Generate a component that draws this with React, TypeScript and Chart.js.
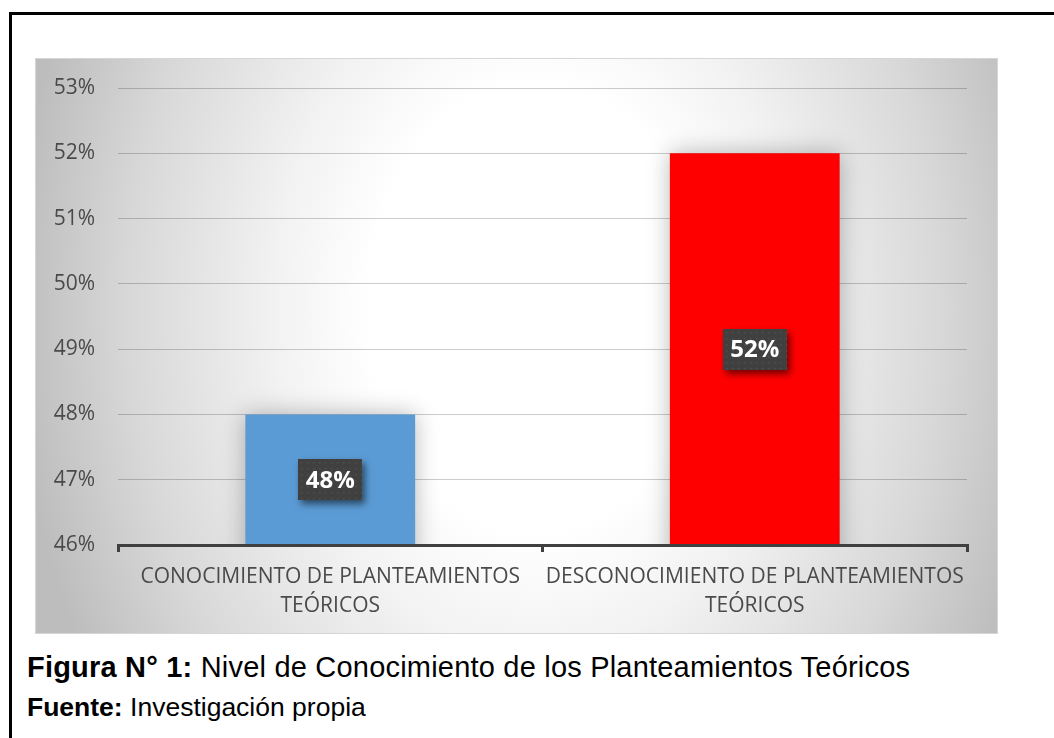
import React, { useEffect, useRef } from "react";
import { Chart, registerables } from "chart.js";

Chart.register(...registerables);

const categories: string[][] = [
  ["CONOCIMIENTO DE PLANTEAMIENTOS", "TEÓRICOS"],
  ["DESCONOCIMIENTO DE PLANTEAMIENTOS", "TEÓRICOS"],
];
const values: number[] = [48, 52];
const valueLabels: string[] = ["48%", "52%"];
const barColors: string[] = ["#5B9BD5", "#FF0000"];
const yMin = 46;
const yMax = 53;
const yStep = 1;
const captionBold = "Figura N° 1:";
const captionText = " Nivel de Conocimiento de los Planteamientos Teóricos";
const sourceBold = "Fuente:";
const sourceText = " Investigación propia";

const W = 963;
const H = 576;

function drawValueLabels(chart: any) {
  const ctx = chart.ctx;
  const xs = chart.scales.x;
  const ys = chart.scales.y;
  for (let i = 0; i < values.length; i++) {
    const x = xs.getPixelForValue(i);
    const y = ys.getPixelForValue((values[i] + yMin) / 2);
    const bw = 64;
    const bh = 41;
    const left = Math.round(x - bw / 2);
    const top = Math.round(y - bh / 2);
    ctx.save();
    ctx.shadowColor = "rgba(0,0,0,0.55)";
    ctx.shadowBlur = 7;
    ctx.shadowOffsetX = 3;
    ctx.shadowOffsetY = 4;
    ctx.fillStyle = "#404040";
    ctx.fillRect(left, top, bw, bh);
    ctx.restore();
    ctx.save();
    ctx.fillStyle = "rgba(255,255,255,0.08)";
    for (let dx = 3; dx < bw; dx += 6) {
      for (let dy = 3; dy < bh; dy += 6) {
        ctx.fillRect(left + dx, top + dy, 1.5, 1.5);
      }
    }
    ctx.fillStyle = "#ffffff";
    ctx.font = "bold 24px 'Open Sans'";
    ctx.textAlign = "center";
    ctx.textBaseline = "middle";
    ctx.fillText(valueLabels[i], x, y + 1);
    ctx.restore();
  }
}

const bgPlugin = {
  id: "bgGradient",
  beforeDraw(chart: any) {
    const ctx = chart.ctx;
    const cx = 500;
    const cy = 250;
    const rx = 520;
    const ry = 700;
    ctx.save();
    ctx.translate(cx, cy);
    ctx.scale(1, ry / rx);
    const g = ctx.createRadialGradient(0, 0, 0, 0, 0, rx);
    g.addColorStop(0, "#ffffff");
    g.addColorStop(0.32, "#ffffff");
    g.addColorStop(0.5, "#f2f2f2");
    g.addColorStop(0.78, "#d8d8d8");
    g.addColorStop(1, "#bdbdbd");
    ctx.fillStyle = g;
    ctx.fillRect(-cx, (-cy * rx) / ry, W, (H * rx) / ry);
    ctx.restore();
    ctx.save();
    ctx.strokeStyle = "#d6d6d6";
    ctx.lineWidth = 1;
    ctx.strokeRect(0.5, 0.5, W - 1, H - 1);
    ctx.restore();
  },
  beforeDatasetsDraw(chart: any) {
    const ctx = chart.ctx;
    ctx.save();
    ctx.shadowColor = "rgba(0,0,0,0.28)";
    ctx.shadowBlur = 22;
    ctx.shadowOffsetX = 0;
    ctx.shadowOffsetY = 0;
  },
  afterDatasetsDraw(chart: any) {
    chart.ctx.restore();
  },
  afterDraw(chart: any) {
    drawValueLabels(chart);
  },
};

function ChartBox() {
  const ref = useRef<HTMLCanvasElement | null>(null);
  useEffect(() => {
    if (!ref.current) return;
    const chart = new Chart(ref.current, {
      type: "bar",
      data: {
        labels: categories as any,
        datasets: [
          {
            data: values,
            backgroundColor: barColors,
            borderWidth: 0,
            barPercentage: 0.4,
            categoryPercentage: 1,
          },
        ],
      },
      options: {
        responsive: false,
        animation: false,
        devicePixelRatio: 1,
        layout: { padding: { top: 30, right: 31, left: 0, bottom: 0 } },
        plugins: {
          legend: { display: false },
          tooltip: { enabled: false },
          title: { display: false },
        },
        scales: {
          x: {
            offset: true,
            grid: {
              display: true,
              drawOnChartArea: false,
              drawTicks: true,
              tickLength: 7,
              color: "#404040",
              lineWidth: 3,
              offset: true,
            },
            border: { display: true, color: "#404040", width: 3, z: 1 },
            ticks: {
              color: "#4a4a4a",
              padding: 10,
              maxRotation: 0,
              autoSkip: false,
              font: { family: "'Open Sans'", size: 21, lineHeight: 1.4 },
            },
            afterFit(scale: any) {
              scale.height = 89;
            },
          },
          y: {
            min: yMin,
            max: yMax,
            grid: {
              drawTicks: true,
              tickLength: 23,
              tickColor: "rgba(0,0,0,0)",
              color: "rgba(0,0,0,0.2)",
              lineWidth: 1,
            },
            border: { display: false },
            ticks: {
              stepSize: yStep,
              color: "#4a4a4a",
              padding: 0,
              font: { family: "'Open Sans'", size: 21 },
              callback: (v: any) => `${v}%`,
            },
            afterFit(scale: any) {
              scale.width = 83;
            },
          },
        },
      },
      plugins: [bgPlugin],
    });
    return () => chart.destroy();
  }, []);
  return <canvas ref={ref} width={W} height={H} style={{ display: "block", width: W, height: H }} />;
}

export default function App() {
  return (
    <div
      style={{
        position: "fixed",
        left: 0,
        top: 0,
        width: 1054,
        height: 738,
        background: "#ffffff",
        overflow: "hidden",
      }}
    >
      <div
        style={{
          position: "absolute",
          left: 9,
          top: 12,
          width: 1200,
          height: 900,
          borderTop: "3px solid #000",
          borderLeft: "3px solid #000",
          boxSizing: "border-box",
        }}
      />
      <div style={{ position: "absolute", left: 35, top: 58 }}>
        <ChartBox />
      </div>
      <div
        style={{
          position: "absolute",
          left: 27,
          top: 651,
          fontFamily: "'Liberation Sans', Arial, sans-serif",
          fontSize: 29,
          letterSpacing: "0.2px",
          lineHeight: "32px",
          color: "#000",
          whiteSpace: "nowrap",
        }}
      >
        <b>{captionBold}</b>
        {captionText}
      </div>
      <div
        style={{
          position: "absolute",
          left: 27,
          top: 692,
          fontFamily: "'Liberation Sans', Arial, sans-serif",
          fontSize: 26.5,
          lineHeight: "30px",
          color: "#000",
          whiteSpace: "nowrap",
        }}
      >
        <b>{sourceBold}</b>
        {sourceText}
      </div>
    </div>
  );
}
